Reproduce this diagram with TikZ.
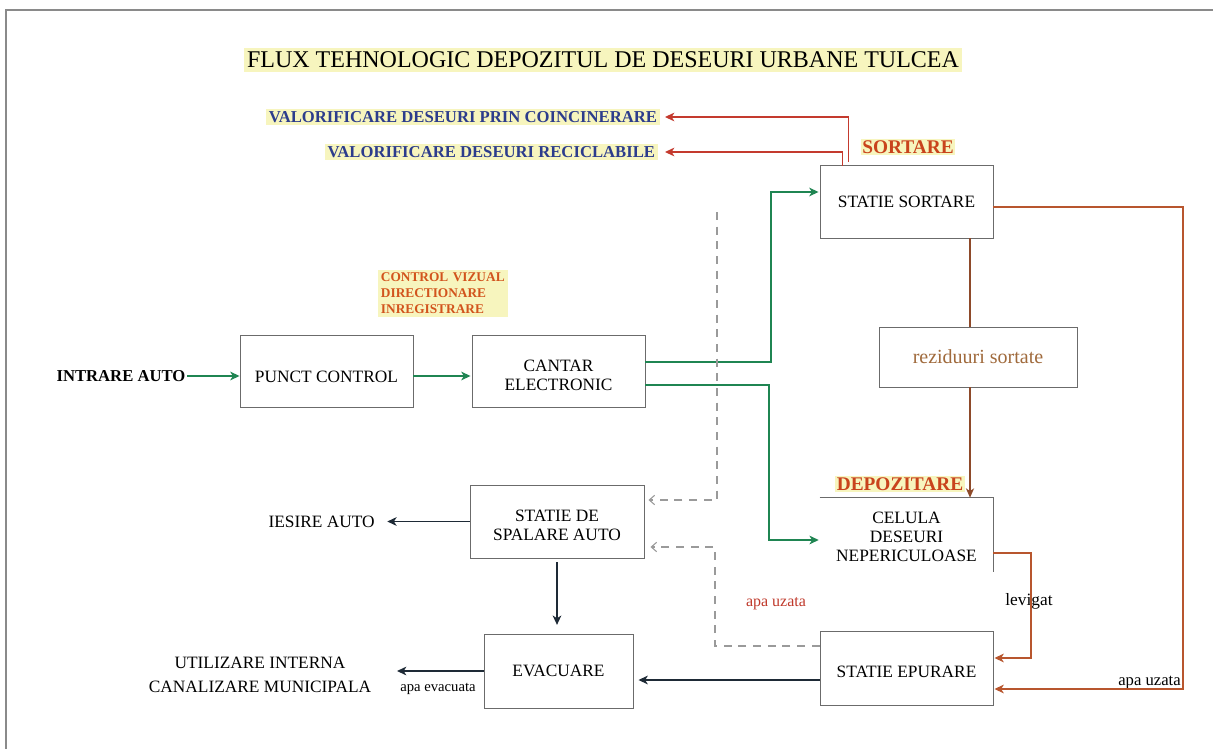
\documentclass[tikz,border=0pt]{standalone}
\usepackage{fontspec}
\setmainfont{Liberation Serif}
\usetikzlibrary{arrows.meta,calc}
\definecolor{boxgray}{HTML}{6B6B6B}
\definecolor{framegray}{HTML}{8A8A8A}
\definecolor{grn}{HTML}{1F8552}
\definecolor{redtop}{HTML}{C43A2E}
\definecolor{rust}{HTML}{B8562E}
\definecolor{brownln}{HTML}{8E4A2A}
\definecolor{reztext}{HTML}{A06A3C}
\definecolor{stagetext}{HTML}{C9431C}
\definecolor{ctrltext}{HTML}{D2541D}
\definecolor{bluetext}{HTML}{2C3C8C}
\definecolor{redtext}{HTML}{C0392B}
\definecolor{dashgray}{HTML}{9A9A9A}
\definecolor{darkln}{HTML}{1E2A36}
\definecolor{hl}{HTML}{F7F5BE}
\newdimen\pxu
\pxu=0.75pt
\begin{document}
\begin{tikzpicture}[x=0.75pt,y=-0.75pt,
  box/.style={draw=boxgray,line width=0.7pt,align=center,inner sep=0pt,
    font=\fontsize{13}{14.5}\selectfont},
  plain/.style={align=center,inner sep=1pt,font=\fontsize{13}{18}\selectfont},
  hlabel/.style={fill=hl,inner xsep=2pt,inner ysep=2pt},
  garrow/.style={draw=grn,line width=1.1pt,-{Stealth[length=7pt,width=6.5pt,inset=2pt]}},
  rarrow/.style={draw=redtop,line width=1.1pt,-{Stealth[length=7pt,width=6.5pt,inset=2pt]}},
  rustarrow/.style={draw=rust,line width=1.1pt,-{Stealth[length=7pt,width=6.5pt,inset=2pt]}},
  brarrow/.style={draw=brownln,line width=1.3pt,-{Stealth[length=7pt,width=6pt,inset=2pt]}},
  karrow/.style={draw=darkln,line width=1.1pt,-{Stealth[length=7pt,width=6.5pt,inset=2pt]}},
  darrow/.style={draw=dashgray,line width=0.8pt,dash pattern=on 6pt off 5pt,
    -{Straight Barb[length=4pt,width=7pt]}}]

\useasboundingbox (0,0) rectangle (1213,749);
\fill[white] (0,0) rectangle (1213,749);

% page frame
\draw[framegray,line width=0.8pt] (6,749) -- (6,10) -- (1213,10);

% title
\node[hlabel,inner ysep=3pt,font=\fontsize{18}{20}\selectfont] (title) at (603,60)
  {FLUX TEHNOLOGIC DEPOZITUL DE DESEURI URBANE TULCEA};

% recovery outputs
\node[hlabel,anchor=east,text=bluetext,font=\bfseries\fontsize{12.5}{14}\selectfont]
  (val1) at (660,117) {VALORIFICARE DESEURI PRIN COINCINERARE};
\node[hlabel,anchor=east,text=bluetext,font=\bfseries\fontsize{12.5}{14}\selectfont]
  (val2) at (658,152) {VALORIFICARE DESEURI RECICLABILE};

% stage labels
\node[hlabel,inner sep=1pt,text=stagetext,font=\bfseries\fontsize{14.5}{16}\selectfont]
  (sortlbl) at (908,147) {SORTARE};
\node[hlabel,inner sep=1pt,text=stagetext,font=\bfseries\fontsize{14.5}{16}\selectfont]
  (deplbl) at (900,484) {DEPOZITARE};

% control note
\node[fill=hl,anchor=north west,align=left,inner sep=2pt,text width=93pt,
  text=ctrltext,font=\bfseries\fontsize{10}{12}\selectfont] (ctrl) at (378,270)
  {CONTROL VIZUAL\\DIRECTIONARE\\INREGISTRARE};

% process boxes
\node[box,minimum width=173\pxu,minimum height=72\pxu,text height=17.6pt,text depth=0pt]
  (punct) at (326.5,371) {PUNCT CONTROL};
\node[box,minimum width=173\pxu,minimum height=72\pxu,text height=29.9pt,text depth=0pt]
  (cantar) at (558.5,371) {CANTAR\\ELECTRONIC};
\node[box,minimum width=173\pxu,minimum height=73\pxu] (sortare) at (906.5,201.5) {STATIE SORTARE};
\node[box,minimum width=198\pxu,minimum height=60\pxu,text=reztext,
  font=\fontsize{15}{17}\selectfont] (rezid) at (978,357) {reziduuri sortate};
\node[align=center,inner sep=0pt,minimum width=173\pxu,minimum height=78\pxu,
  font=\fontsize{13}{14.5}\selectfont] (celula) at (906.5,537) {CELULA\\DESEURI\\NEPERICULOASE};
\draw[boxgray,line width=0.7pt] (celula.north west) -- (celula.north east) -- ($(celula.south east)+(0,-4)$);
\node[box,minimum width=173\pxu,minimum height=74\pxu,text height=14pt,text depth=0pt]
  (epurare) at (906.5,668) {STATIE EPURARE};
\node[box,minimum width=174\pxu,minimum height=73\pxu,text height=29.1pt,text depth=0pt]
  (spalare) at (557,521.5) {STATIE DE\\SPALARE AUTO};
\node[box,minimum width=149\pxu,minimum height=74\pxu] (evacuare) at (558.5,671) {EVACUARE};

% entry / exit labels
\node[plain,anchor=east,font=\bfseries\fontsize{12.5}{14}\selectfont] (intrare) at (187,376) {INTRARE AUTO};
\node[plain,anchor=west] (iesire) at (267,522) {IESIRE AUTO};
\node[plain] (utilizare) at (260,675) {UTILIZARE INTERNA\\CANALIZARE MUNICIPALA};

% small flow labels
\node[inner sep=0pt,font=\fontsize{11}{12}\selectfont] (apaev) at (438,689) {apa evacuata};
\node[inner sep=0pt,text=redtext,font=\fontsize{12}{13}\selectfont] (apauz1) at (776,604) {apa uzata};
\node[inner sep=0pt,font=\fontsize{13}{14}\selectfont] (levigat) at (1029,601) {levigat};
\node[inner sep=0pt,anchor=east,font=\fontsize{12.5}{14}\selectfont] (apauz2) at (1181,683) {apa uzata};

% bend points and free ends
\coordinate (rezcol) at (970,0);
\coordinate (dtop) at (717,212);
\coordinate (evout) at (397,671);
\coordinate (epin) at ($(epurare.west)+(0,12)$);

% vehicle flow
\draw[garrow] (intrare.east) -- (intrare.east -| punct.west);
\draw[garrow] ($(punct.east)+(0,5)$) -- ($(cantar.west)+(-1,5)$);
\draw[garrow] ($(cantar.east)+(0,-9)$) -| (771,192) -- ($(sortare.west)+(-1,-9.5)$);
\draw[garrow] ($(cantar.east)+(0,14)$) -| (769,540) -- ($(celula.west)+(-1,3)$);

% sorting outputs
\draw[rarrow] ($(sortare.north west)+(29,-3)$) |- ($(val1.east)+(5,0)$);
\draw[rarrow] ($(sortare.north west)+(23,1)$) |- ($(val2.east)+(7,0)$);

% residues to the landfill cell
\draw[brownln,line width=1.3pt] (sortare.south -| rezcol) -- (rezid.north -| rezcol);
\draw[brarrow] (rezid.south -| rezcol) -- (celula.north -| rezcol);

% waste water to the treatment station
\draw[rustarrow] ($(sortare.east)+(0,5.5)$) -| (1183,689) -- ($(epurare.east)+(1,21)$);
\draw[rustarrow] ($(celula.east)+(0,16)$) -| (1031,658) -- ($(epurare.east)+(1,-10)$);

% treated water and wash station
\draw[karrow] (epin) -- ($(epin -| evacuare.east)+(5,0)$);
\draw[karrow] (evacuare.west) -- (evout);
\draw[karrow] (spalare.west) -- ($(spalare.west -| iesire.east)+(11,0)$);
\draw[karrow,shorten <=3pt,shorten >=6.5pt] (spalare.south) -- (spalare.south |- evacuare.north);

% recycled water to the wash station
\draw[darrow] (dtop) |- ($(spalare.east)+(4,-21.5)$);
\draw[darrow] ($(epurare.west)+(0,-22)$) -| (715,547) -- ($(spalare.east)+(6,25.5)$);

\end{tikzpicture}
\end{document}
